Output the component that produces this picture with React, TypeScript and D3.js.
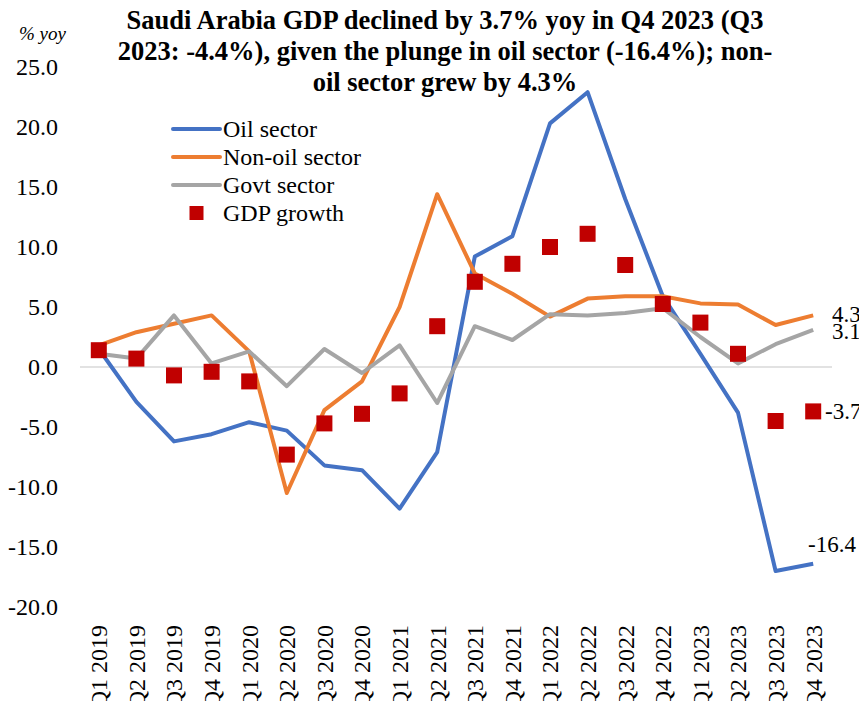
import React, { useEffect, useRef } from 'react';
import * as d3 from 'd3';

const quarters = [
  'Q1 2019', 'Q2 2019', 'Q3 2019', 'Q4 2019',
  'Q1 2020', 'Q2 2020', 'Q3 2020', 'Q4 2020',
  'Q1 2021', 'Q2 2021', 'Q3 2021', 'Q4 2021',
  'Q1 2022', 'Q2 2022', 'Q3 2022', 'Q4 2022',
  'Q1 2023', 'Q2 2023', 'Q3 2023', 'Q4 2023',
];

const oilSector = [1.5, -2.9, -6.2, -5.6, -4.6, -5.3, -8.2, -8.6, -11.8, -7.1, 9.2, 10.9, 20.3, 22.9, 14.0, 5.9, 1.1, -3.8, -17.0, -16.4];
const nonOilSector = [1.8, 2.9, 3.6, 4.3, 1.3, -10.5, -3.6, -1.2, 5.0, 14.4, 7.8, 6.1, 4.2, 5.7, 5.9, 5.9, 5.3, 5.2, 3.5, 4.3];
const govtSector = [1.1, 0.7, 4.3, 0.3, 1.3, -1.6, 1.5, -0.5, 1.8, -3.0, 3.4, 2.25, 4.4, 4.3, 4.5, 4.9, 2.5, 0.3, 1.9, 3.1];
const gdpGrowth = [1.4, 0.7, -0.7, -0.4, -1.2, -7.3, -4.7, -3.9, -2.2, 3.4, 7.1, 8.6, 10.0, 11.1, 8.5, 5.25, 3.7, 1.1, -4.5, -3.7];

const yTicks = [25, 20, 15, 10, 5, 0, -5, -10, -15, -20];

const titleLines = [
  'Saudi Arabia GDP declined by 3.7% yoy in Q4 2023 (Q3',
  '2023: -4.4%), given the plunge in oil sector (-16.4%); non-',
  'oil sector grew by 4.3%',
];

const lineSeries = [
  { name: 'Oil sector', values: oilSector, color: '#4472C4' },
  { name: 'Non-oil sector', values: nonOilSector, color: '#ED7D31' },
  { name: 'Govt sector', values: govtSector, color: '#A5A5A5' },
];

const FONT = '"Liberation Serif", "Times New Roman", serif';

export default function App() {
  const svgRef = useRef<SVGSVGElement>(null);

  useEffect(() => {
    const width = 867;
    const height = 709;

    const svg = d3.select(svgRef.current);
    svg.selectAll('*').remove();
    svg.attr('width', width).attr('height', height);

    svg.append('rect').attr('width', width).attr('height', height).attr('fill', '#fff');

    const x = d3.scaleBand().domain(quarters).range([80, 832]);
    const cx = (q: string) => (x(q) as number) + x.bandwidth() / 2;
    const y = d3.scaleLinear().domain([-20, 25]).range([607, 67]);

    // zero line
    svg.append('line')
      .attr('x1', 80).attr('x2', 832)
      .attr('y1', y(0)).attr('y2', y(0))
      .attr('stroke', '#d9d9d9').attr('stroke-width', 1.5);

    // y tick labels
    svg.append('g')
      .selectAll('text')
      .data(yTicks)
      .join('text')
      .attr('x', 58)
      .attr('y', d => y(d))
      .attr('dy', '0.35em')
      .attr('text-anchor', 'end')
      .attr('font-family', FONT)
      .attr('font-size', 24)
      .text(d => d.toFixed(1));

    // x tick labels
    svg.append('g')
      .selectAll('text')
      .data(quarters)
      .join('text')
      .attr('transform', d => `translate(${cx(d)},625) rotate(-90)`)
      .attr('dy', '0.35em')
      .attr('text-anchor', 'end')
      .attr('font-family', FONT)
      .attr('font-size', 24)
      .text(d => d);

    // unit label
    svg.append('text')
      .attr('x', 19).attr('y', 40)
      .attr('font-family', FONT)
      .attr('font-style', 'italic')
      .attr('font-size', 19)
      .text('% yoy');

    // title
    svg.append('text')
      .attr('font-family', FONT)
      .attr('font-weight', 'bold')
      .attr('font-size', 26.5)
      .attr('text-anchor', 'middle')
      .selectAll('tspan')
      .data(titleLines)
      .join('tspan')
      .attr('x', 445)
      .attr('y', (d, i) => 29 + i * 31)
      .text(d => d);

    const line = d3.line<number>()
      .x((d, i) => cx(quarters[i]))
      .y(d => y(d));

    lineSeries.forEach(s => {
      svg.append('path')
        .datum(s.values)
        .attr('fill', 'none')
        .attr('stroke', s.color)
        .attr('stroke-width', 4)
        .attr('stroke-linejoin', 'round')
        .attr('d', line);
    });

    // GDP markers
    const sz = 16;
    svg.append('g')
      .selectAll('rect')
      .data(gdpGrowth)
      .join('rect')
      .attr('x', (d, i) => cx(quarters[i]) - sz / 2)
      .attr('y', d => y(d) - sz / 2)
      .attr('width', sz)
      .attr('height', sz)
      .attr('fill', '#C00000');

    // end labels
    const last = quarters.length - 1;
    const endLabels = [
      { text: nonOilSector[last].toFixed(1), x: 832, y: 322 },
      { text: govtSector[last].toFixed(1), x: 832, y: 339 },
      { text: gdpGrowth[last].toFixed(1), x: 825, y: y(gdpGrowth[last]) + 8 },
      { text: oilSector[last].toFixed(1), x: 808, y: y(oilSector[last]) - 12 },
    ];
    svg.append('g')
      .selectAll('text')
      .data(endLabels)
      .join('text')
      .attr('x', d => d.x)
      .attr('y', d => d.y)
      .attr('font-family', FONT)
      .attr('font-size', 23)
      .text(d => d.text);

    // legend
    const legend = svg.append('g').attr('transform', 'translate(173,129)');
    const legendItems = [
      ...lineSeries.map(s => ({ name: s.name, color: s.color, type: 'line' })),
      { name: 'GDP growth', color: '#C00000', type: 'square' },
    ];
    legendItems.forEach((item, i) => {
      const gy = i * 28;
      if (item.type === 'line') {
        legend.append('line')
          .attr('x1', 0).attr('x2', 47)
          .attr('y1', gy).attr('y2', gy)
          .attr('stroke', item.color)
          .attr('stroke-width', 4)
          .attr('stroke-linecap', 'round');
      } else {
        legend.append('rect')
          .attr('x', 16.5).attr('y', gy - 7)
          .attr('width', 14).attr('height', 14)
          .attr('fill', item.color);
      }
      legend.append('text')
        .attr('x', 50).attr('y', gy)
        .attr('dy', '0.35em')
        .attr('font-family', FONT)
        .attr('font-size', 24)
        .text(item.name);
    });
  }, []);

  return (
    <div style={{ margin: -8 }}>
      <svg ref={svgRef} style={{ display: 'block' }}></svg>
    </div>
  );
}
